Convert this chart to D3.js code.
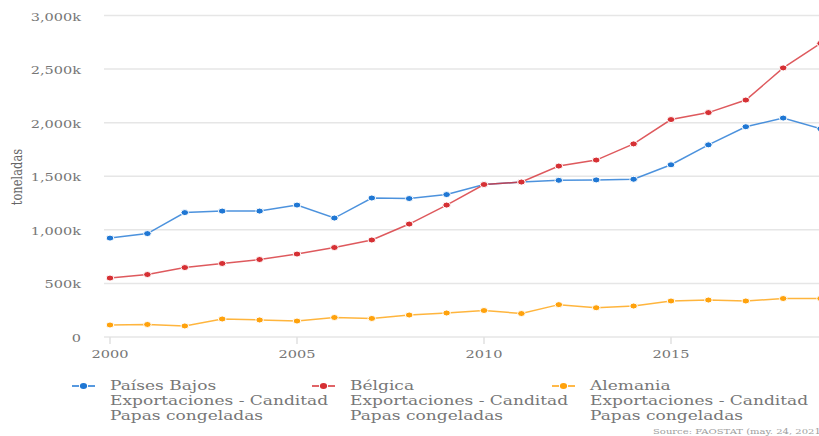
<!DOCTYPE html>
<html>
<head>
<meta charset="utf-8">
<script src="https://cdn.jsdelivr.net/npm/d3@7"></script>
<style>
  body { margin: 0; background: #fff; }
  svg { display: block; }
</style>
</head>
<body>
<div id="chart"></div>
<script>
'use strict';

var years = d3.range(2000, 2020);
var paisesBajos = [923, 965, 1161, 1175, 1175, 1231, 1110, 1297, 1292, 1329,
                   1423, 1446, 1462, 1466, 1472, 1607, 1793, 1962, 2043, 1943];
var belgica = [550, 583, 648, 686, 723, 774, 835, 905, 1054, 1231,
               1423, 1446, 1595, 1651, 1802, 2029, 2094, 2211, 2511, 2740];
var alemania = [112, 117, 103, 168, 159, 149, 182, 173, 205, 224,
                247, 219, 302, 273, 289, 336, 345, 336, 359, 359];
var yTicks = [0, 500, 1000, 1500, 2000, 2500, 3000];
var xTicks = [2000, 2005, 2010, 2015];
var seriesNames = ["Países Bajos", "Bélgica", "Alemania"];
var seriesSub = ["Exportaciones - Canditad", "Papas congeladas"];
var colors = ["#1f77d4", "#d63034", "#ffa20c"];

var width = 819, height = 436;
var serif = "'DejaVu Serif'";
// the original picture is stretched sideways, so text is too
var sx = 1.32;

function place(px, py, extra) {
  return "translate(" + px + "," + py + ") scale(" + sx + ",1)" + (extra || "");
}

var svg = d3.select("#chart")
  .append("svg")
  .attr("width", width)
  .attr("height", height);

var x = d3.scaleLinear().domain([2000, 2019]).range([110, 820.6]);
var y = d3.scaleLinear().domain([0, 3000]).range([337, 15.5]);

// grid lines
svg.append("g")
  .selectAll("line")
  .data(yTicks)
  .enter().append("line")
  .attr("x1", 104)
  .attr("x2", width)
  .attr("y1", function (d) { return y(d); })
  .attr("y2", function (d) { return y(d); })
  .attr("stroke", "#e6e6e6")
  .attr("stroke-width", 1.5);

// y tick labels
svg.append("g")
  .selectAll("text")
  .data(yTicks)
  .enter().append("text")
  .attr("transform", function (d) { return place(81, y(d) + 5); })
  .attr("text-anchor", "end")
  .style("font-family", serif)
  .style("font-size", "11px")
  .attr("fill", "#777")
  .text(function (d) { return d === 0 ? "0" : d3.format(",")(d) + "k"; });

// y axis title
svg.append("text")
  .attr("transform", place(22, 177, " rotate(-90)"))
  .attr("text-anchor", "middle")
  .style("font-family", serif)
  .style("font-size", "11.5px")
  .attr("fill", "#666")
  .text("toneladas");

// x axis ticks
var xg = svg.append("g");
xg.selectAll("line")
  .data(xTicks)
  .enter().append("line")
  .attr("x1", function (d) { return x(d); })
  .attr("x2", function (d) { return x(d); })
  .attr("y1", 337)
  .attr("y2", 344)
  .attr("stroke", "#e0e0e0")
  .attr("stroke-width", 1.5);
xg.selectAll("text")
  .data(xTicks)
  .enter().append("text")
  .attr("transform", function (d) { return place(x(d), 358); })
  .attr("text-anchor", "middle")
  .style("font-family", serif)
  .style("font-size", "11px")
  .attr("fill", "#777")
  .text(function (d) { return d; });

// series
var data = [paisesBajos, belgica, alemania];
var line = d3.line()
  .x(function (d, i) { return x(years[i]); })
  .y(function (d) { return y(d); });

data.forEach(function (vals, k) {
  var g = svg.append("g");
  g.append("path")
    .datum(vals)
    .attr("fill", "none")
    .attr("stroke", colors[k])
    .attr("stroke-opacity", 0.8)
    .attr("stroke-width", 1.5)
    .attr("d", line);
  g.selectAll("ellipse")
    .data(vals)
    .enter().append("ellipse")
    .attr("cx", function (d, i) { return x(years[i]); })
    .attr("cy", function (d) { return y(d); })
    .attr("rx", 3.8)
    .attr("ry", 3)
    .attr("fill", colors[k])
    .attr("stroke", "#fff")
    .attr("stroke-width", 1);
});

// legend
var legend = svg.append("g");
seriesNames.forEach(function (name, k) {
  var lx = 72 + k * 240, ly = 386;
  var item = legend.append("g").attr("transform", "translate(" + lx + "," + ly + ")");
  item.append("line").attr("x1", 0).attr("x2", 7).attr("y1", 0).attr("y2", 0)
    .attr("stroke", colors[k]).attr("stroke-width", 1.5);
  item.append("line").attr("x1", 16).attr("x2", 23).attr("y1", 0).attr("y2", 0)
    .attr("stroke", colors[k]).attr("stroke-width", 1.5);
  item.append("ellipse").attr("cx", 11.5).attr("cy", 0).attr("rx", 3.6).attr("ry", 2.9)
    .attr("fill", colors[k]);
  var t = item.append("text")
    .attr("transform", place(38, 4))
    .style("font-family", serif)
    .style("font-size", "12.9px")
    .attr("fill", "#777");
  [name].concat(seriesSub).forEach(function (s, j) {
    t.append("tspan").attr("x", 0).attr("y", j * 15).text(s);
  });
});

// source
svg.append("text")
  .attr("transform", place(653, 434))
  .style("font-family", serif)
  .style("font-size", "7.6px")
  .attr("fill", "#a0a0a0")
  .text("Source: FAOSTAT (may. 24, 2021)");
</script>
</body>
</html>
